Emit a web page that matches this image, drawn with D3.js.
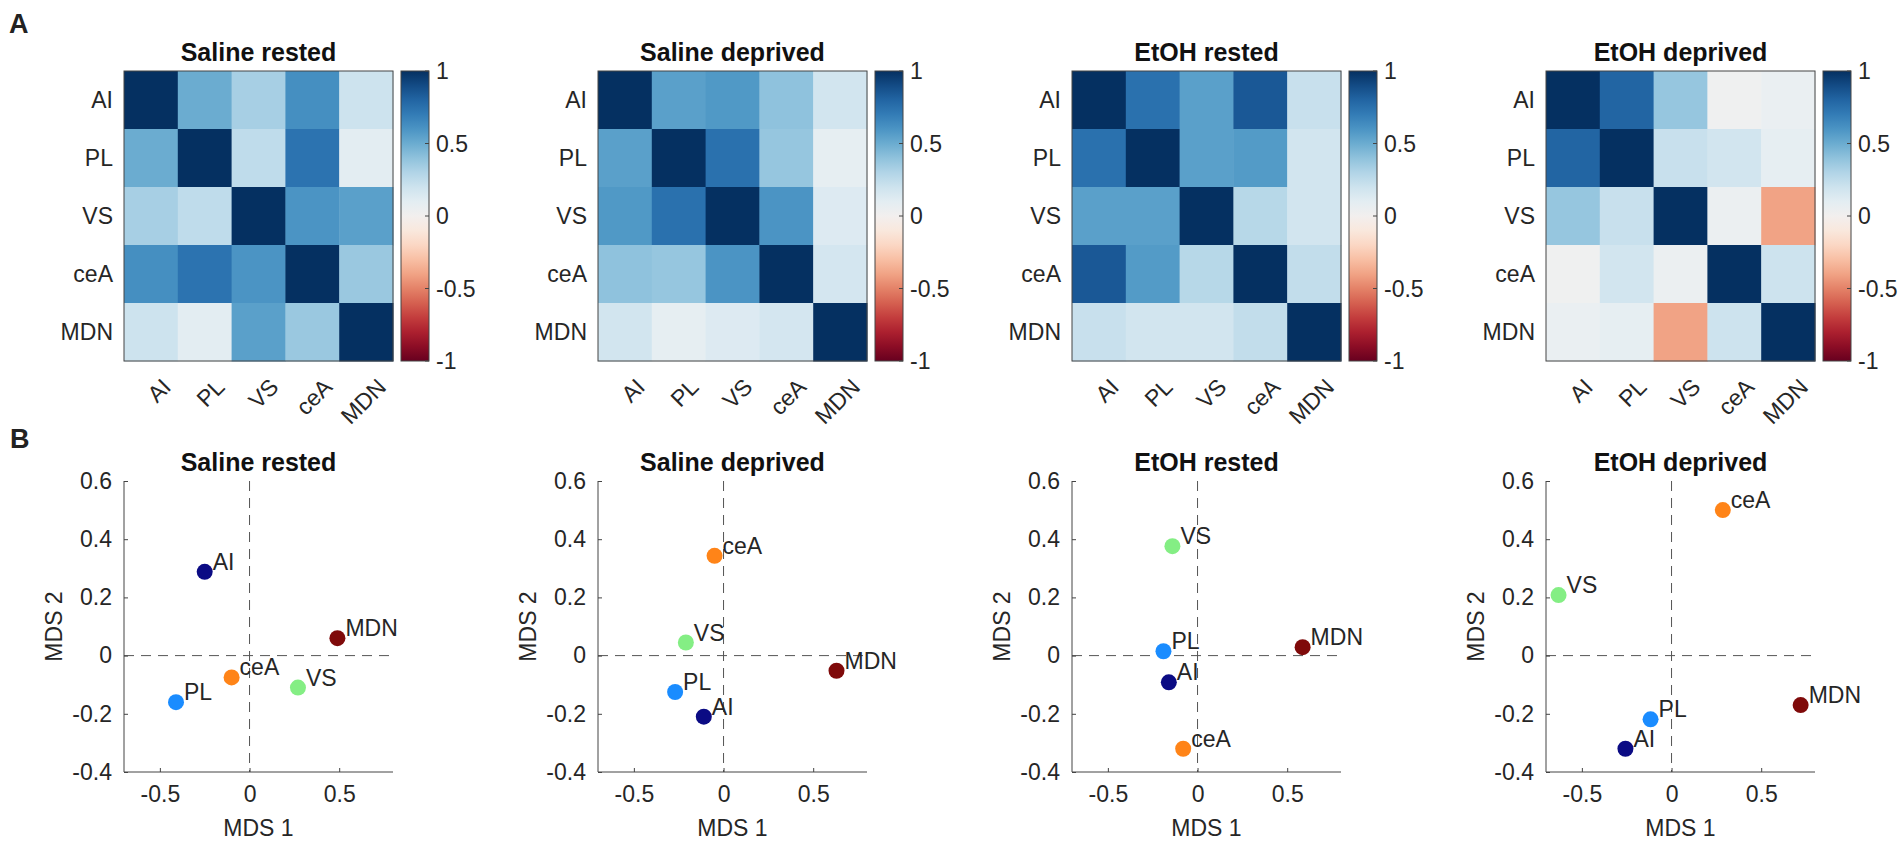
<!DOCTYPE html>
<html>
<head>
<meta charset="utf-8">
<script src="https://cdn.jsdelivr.net/npm/d3@7"></script>
<style>
  body { margin: 0; background: #fff; }
  svg text { font-family: "Liberation Sans", Arial, Helvetica, sans-serif; fill: #262626; }
  .title { font-weight: bold; font-size: 25px; fill: #111; }
  .tick-label { font-size: 23px; }
  .panel-letter { font-weight: bold; font-size: 27px; fill: #222; }
</style>
</head>
<body>
<svg id="chart" width="1902" height="843"></svg>
<script>
// regions and conditions
var regions = ["AI", "PL", "VS", "ceA", "MDN"];
var conditions = ["Saline rested", "Saline deprived", "EtOH rested", "EtOH deprived"];

// correlation matrices (rows/cols in region order)
var corrSalineRested = [
  [1,    0.5,  0.33, 0.62, 0.2 ],
  [0.5,  1,    0.25, 0.74, 0.1 ],
  [0.33, 0.25, 1,    0.6,  0.55],
  [0.62, 0.74, 0.6,  1,    0.37],
  [0.2,  0.1,  0.55, 0.37, 1   ]];
var corrSalineDeprived = [
  [1,    0.55, 0.58, 0.4,  0.18],
  [0.55, 1,    0.75, 0.38, 0.08],
  [0.58, 0.75, 1,    0.6,  0.13],
  [0.4,  0.38, 0.6,  1,    0.17],
  [0.18, 0.08, 0.13, 0.17, 1   ]];
var corrEtohRested = [
  [1,    0.75, 0.55, 0.85, 0.22],
  [0.75, 1,    0.55, 0.57, 0.18],
  [0.55, 0.55, 1,    0.28, 0.18],
  [0.85, 0.57, 0.28, 1,    0.24],
  [0.22, 0.18, 0.18, 0.24, 1   ]];
var corrEtohDeprived = [
  [1,    0.8,  0.38, 0.02, 0.06],
  [0.8,  1,    0.22, 0.18, 0.08],
  [0.38, 0.22, 1,    0.05, -0.4],
  [0.02, 0.18, 0.05, 1,    0.2 ],
  [0.06, 0.08, -0.4, 0.2,  1   ]];

// MDS coordinates [MDS 1, MDS 2] in region order
var mdsSalineRested   = [[-0.25, 0.288], [-0.41, -0.16], [0.27, -0.11], [-0.10, -0.075], [0.49, 0.06]];
var mdsSalineDeprived = [[-0.11, -0.21], [-0.27, -0.125], [-0.21, 0.045], [-0.05, 0.343], [0.63, -0.052]];
var mdsEtohRested     = [[-0.16, -0.092], [-0.19, 0.015], [-0.14, 0.376], [-0.08, -0.32], [0.586, 0.029]];
var mdsEtohDeprived   = [[-0.257, -0.32], [-0.117, -0.219], [-0.63, 0.208], [0.286, 0.50], [0.72, -0.17]];

var corrData = [corrSalineRested, corrSalineDeprived, corrEtohRested, corrEtohDeprived];
var mdsData = [mdsSalineRested, mdsSalineDeprived, mdsEtohRested, mdsEtohDeprived];

// ticks
var cbarTicks = [-1, -0.5, 0, 0.5, 1];
var mdsXTicks = [-0.5, 0, 0.5];
var mdsYTicks = [-0.4, -0.2, 0, 0.2, 0.4, 0.6];

// jet-like colours for the regions
var regionColors = ["#0b0b84", "#1a8cff", "#84ee84", "#ff8418", "#7f0a0a"];

var svg = d3.select("#chart");
var fmt = function(d){ return String(d); };
var color = d3.scaleSequential(d3.interpolateRdBu).domain([-1, 1]);

// layout
var panelX = [124, 598, 1072, 1546];
var W = 269;
var hmTop = 71, hmH = 290;
var scTop = 481, scH = 291;

// gradient for colorbars
var grad = svg.append("defs").append("linearGradient")
    .attr("id", "rdbu").attr("x1", 0).attr("y1", 1).attr("x2", 0).attr("y2", 0);
d3.range(0, 1.0001, 0.05).forEach(function(t){
    grad.append("stop").attr("offset", t).attr("stop-color", d3.interpolateRdBu(t));
});

svg.append("text").attr("class", "panel-letter").attr("x", 9).attr("y", 33).text("A");
svg.append("text").attr("class", "panel-letter").attr("x", 10).attr("y", 448).text("B");

// ------------------------------
// A: correlation heatmaps
// ------------------------------
conditions.forEach(function(cond, ci){
    var g = svg.append("g").attr("transform", "translate(" + panelX[ci] + "," + hmTop + ")");
    var x = d3.scaleBand().domain(regions).range([0, W]);
    var y = d3.scaleBand().domain(regions).range([0, hmH]);

    var cells = [];
    corrData[ci].forEach(function(row, i){
        row.forEach(function(v, j){ cells.push({r: regions[i], c: regions[j], v: v}); });
    });

    g.selectAll("rect.cell").data(cells).enter().append("rect")
        .attr("class", "cell")
        .attr("x", function(d){ return x(d.c); })
        .attr("y", function(d){ return y(d.r); })
        .attr("width", x.bandwidth() + 0.5)
        .attr("height", y.bandwidth() + 0.5)
        .attr("fill", function(d){ return color(d.v); });

    g.append("rect").attr("width", W).attr("height", hmH)
        .attr("fill", "none").attr("stroke", "#444").attr("stroke-width", 1);

    g.append("text").attr("class", "title")
        .attr("x", W / 2).attr("y", -10).attr("text-anchor", "middle").text(cond);

    // row labels
    g.selectAll("text.rowlab").data(regions).enter().append("text")
        .attr("class", "tick-label")
        .attr("x", -11)
        .attr("y", function(d){ return y(d) + y.bandwidth() / 2; })
        .attr("dy", "0.36em")
        .attr("text-anchor", "end")
        .text(function(d){ return d; });

    // column labels, rotated
    g.selectAll("text.collab").data(regions).enter().append("text")
        .attr("class", "tick-label")
        .attr("text-anchor", "end")
        .attr("transform", function(d){
            return "translate(" + (x(d) + x.bandwidth() / 2 + 10) + "," + (hmH + 16) + ") rotate(-45)";
        })
        .attr("dy", "0.7em")
        .text(function(d){ return d; });

    // colorbar
    var cb = g.append("g").attr("transform", "translate(" + (W + 8) + ",0)");
    var cbW = 28;
    var cy = d3.scaleLinear().domain([-1, 1]).range([hmH, 0]);
    cb.append("rect").attr("width", cbW).attr("height", hmH)
        .attr("fill", "url(#rdbu)").attr("stroke", "#444").attr("stroke-width", 1);
    cb.selectAll("line.cbt").data(cbarTicks).enter().append("line")
        .attr("x1", cbW - 4).attr("x2", cbW)
        .attr("y1", function(d){ return cy(d); }).attr("y2", function(d){ return cy(d); })
        .attr("stroke", "#444");
    cb.selectAll("text.cbl").data(cbarTicks).enter().append("text")
        .attr("class", "tick-label")
        .attr("x", cbW + 7)
        .attr("y", function(d){ return cy(d); })
        .attr("dy", "0.36em")
        .text(fmt);
});

// ------------------------------
// B: MDS scatter plots
// ------------------------------
conditions.forEach(function(cond, ci){
    var g = svg.append("g").attr("transform", "translate(" + panelX[ci] + "," + scTop + ")");
    var x = d3.scaleLinear().domain([-0.7, 0.8]).range([0, W]);
    var y = d3.scaleLinear().domain([-0.4, 0.6]).range([scH, 0]);

    g.append("text").attr("class", "title")
        .attr("x", W / 2).attr("y", -10).attr("text-anchor", "middle").text(cond);

    // dashed zero lines
    g.append("line").attr("x1", 0).attr("x2", W).attr("y1", y(0)).attr("y2", y(0))
        .attr("stroke", "#555").attr("stroke-dasharray", "10,7");
    g.append("line").attr("x1", x(0)).attr("x2", x(0)).attr("y1", 0).attr("y2", scH)
        .attr("stroke", "#555").attr("stroke-dasharray", "10,7");

    // axes with inward ticks
    var xAxis = d3.axisBottom(x).tickValues(mdsXTicks).tickSize(-4).tickPadding(14).tickFormat(fmt);
    var yAxis = d3.axisLeft(y).tickValues(mdsYTicks).tickSize(-4).tickPadding(12).tickFormat(fmt);

    var gx = g.append("g").attr("transform", "translate(0," + scH + ")").call(xAxis);
    var gy = g.append("g").call(yAxis);
    [gx, gy].forEach(function(ax){
        ax.select(".domain").attr("stroke", "#444");
        ax.selectAll(".tick line").attr("stroke", "#444");
        ax.selectAll(".tick text").attr("class", "tick-label").attr("fill", "#262626")
            .style("font-size", "23px").style("font-family", null);
    });
    // keep only left and bottom spines
    gx.select(".domain").attr("d", "M0,0H" + W);
    gy.select(".domain").attr("d", "M0," + scH + "V0");

    g.append("text").attr("class", "tick-label")
        .attr("x", W / 2).attr("y", scH + 64).attr("text-anchor", "middle").text("MDS 1");
    g.append("text").attr("class", "tick-label")
        .attr("transform", "translate(-62," + (scH / 2) + ") rotate(-90)")
        .attr("text-anchor", "middle").text("MDS 2");

    var pts = mdsData[ci].map(function(p, i){ return {name: regions[i], x: p[0], y: p[1], col: regionColors[i]}; });

    g.selectAll("circle.pt").data(pts).enter().append("circle")
        .attr("class", "pt")
        .attr("cx", function(d){ return x(d.x); })
        .attr("cy", function(d){ return y(d.y); })
        .attr("r", 8)
        .attr("fill", function(d){ return d.col; });

    g.selectAll("text.ptlab").data(pts).enter().append("text")
        .attr("class", "tick-label")
        .attr("x", function(d){ return x(d.x) + 8; })
        .attr("y", function(d){ return y(d.y) - 2; })
        .text(function(d){ return d.name; });
});
</script>
</body>
</html>
